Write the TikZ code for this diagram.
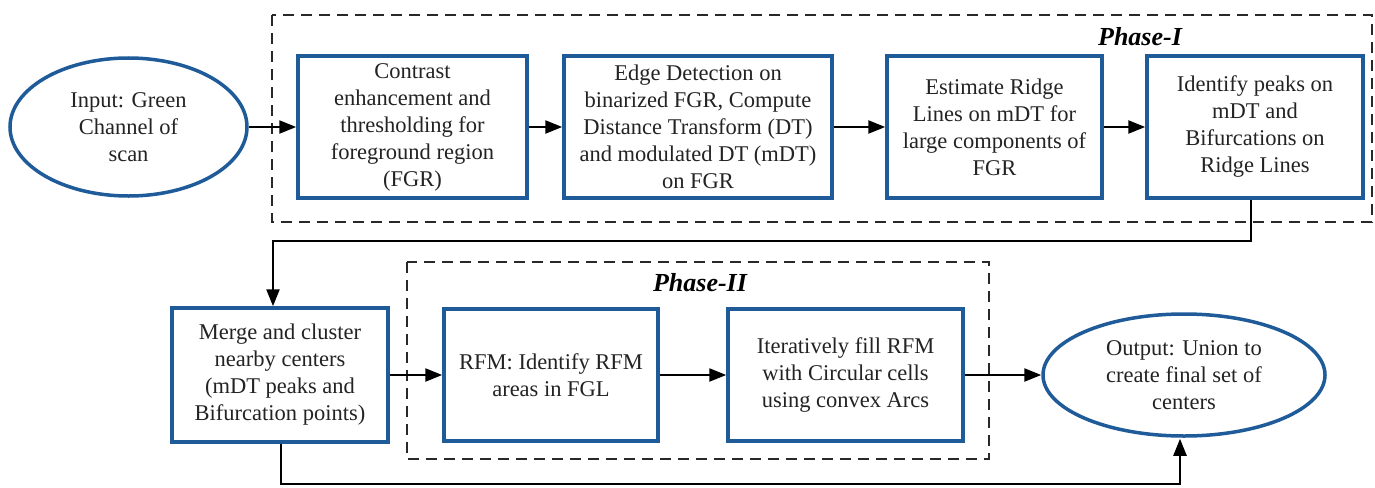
\documentclass[tikz,border=0pt]{standalone}
\usepackage{fontspec}
\setmainfont{Liberation Serif}
\usetikzlibrary{shapes.geometric,arrows.meta,calc}
\definecolor{boxblue}{RGB}{31,91,153}
\definecolor{txt}{RGB}{35,35,35}
\definecolor{dashgray}{RGB}{40,40,40}
\begin{document}
\begin{tikzpicture}[x=1pt,y=-1pt,
  every node/.style={font=\fontsize{22.5}{27}\selectfont, text=txt, align=center, inner sep=0pt},
  procbox/.style={draw=boxblue, line width=3.5pt, fill=white, rectangle},
  termel/.style={draw=boxblue, line width=3.5pt, fill=white, ellipse, inner sep=0pt},
  conn/.style={line width=2.4pt, draw=black},
  arr/.style={conn, -{Triangle[length=17pt,width=13pt]}},
  phasebox/.style={draw=dashgray, line width=2.8pt, dash pattern=on 11pt off 7pt},
  phaselabel/.style={font=\fontsize{26}{30}\selectfont\bfseries\itshape, text=black}
]
\useasboundingbox (0,0) rectangle (1375,487);

% dashed phase frames
\draw[phasebox] (272,15) rectangle (1372,222);
\draw[phasebox] (407,262) rectangle (989,459);
\node[phaselabel, anchor=base] (p1) at (1140,46) {Phase-I};
\node[phaselabel, anchor=base] (p2) at (700,291) {Phase-II};

% nodes
\node[termel, minimum width=237pt, minimum height=138pt] (in) at (128.5,127) {Input: Green\\Channel of\\scan};
\node[procbox, minimum width=229pt, minimum height=142pt] (b1) at (412.5,127) {Contrast\\enhancement and\\thresholding for\\foreground region\\(FGR)};
\node[procbox, minimum width=268pt, minimum height=142pt] (b2) at (698,127) {Edge Detection on\\binarized FGR, Compute\\Distance Transform (DT)\\and modulated DT (mDT)\\on FGR};
\node[procbox, minimum width=215pt, minimum height=142pt] (b3) at (994.5,127) {Estimate Ridge\\Lines on mDT for\\large components of\\FGR};
\node[procbox, minimum width=216pt, minimum height=142pt] (b4) at (1255,127) {Identify peaks on\\mDT and\\Bifurcations on\\Ridge Lines};

\node[procbox, minimum width=216pt, minimum height=134pt] (b5) at (280,375) {Merge and cluster\\nearby centers\\(mDT peaks and\\Bifurcation points)};
\node[procbox, minimum width=214pt, minimum height=132pt] (b6) at (551,375) {RFM: Identify RFM\\areas in FGL};
\node[procbox, minimum width=235pt, minimum height=132pt] (b7) at (845.5,375) {Iteratively fill RFM\\with Circular cells\\using convex Arcs};
\node[termel, minimum width=282pt, minimum height=122pt] (out) at (1184,375) {Output: Union to\\create final set of\\centers};

% connectors
\draw[arr] (in.east) -- (b1.west);
\draw[arr] (b1.east) -- (b2.west);
\draw[arr] (b2.east) -- (b3.west);
\draw[arr] (b3.east) -- (b4.west);

\coordinate (t1) at (1251,241);
\coordinate (t2) at (273,241);
\draw[arr] (b4.south -| t1) -- (t1) -- (t2) -- (t2 |- b5.north);

\draw[arr] (b5.east) -- (b6.west);
\draw[arr] (b6.east) -- (b7.west);
\draw[arr] (b7.east) -- (out.west);

\coordinate (u1) at (281,484);
\coordinate (u2) at (1180,484);
\draw[arr] (b5.south -| u1) -- (u1) -- (u2) -- ($(out.south -| u2)+(0,1)$);
\end{tikzpicture}
\end{document}
